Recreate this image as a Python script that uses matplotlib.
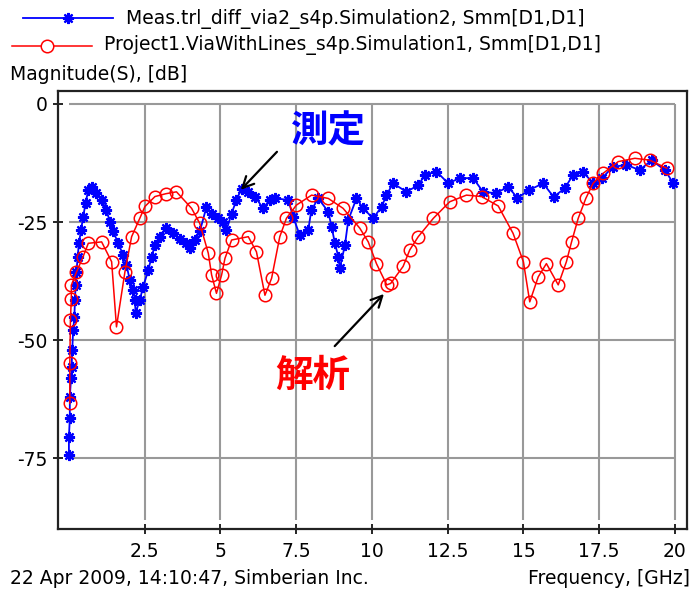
import matplotlib
matplotlib.use("Agg")
import matplotlib.pyplot as plt
from matplotlib.lines import Line2D

plt.rcParams['font.family'] = ['DejaVu Sans']

# measured curve (blue asterisks)
blue_f = [0.0, 0.0, 0.03, 0.03, 0.07, 0.09, 0.11, 0.14, 0.18, 0.20, 0.22, 0.25, 0.29, 0.33,
          0.40, 0.47, 0.55, 0.64, 0.75, 0.91, 1.08, 1.24, 1.35, 1.46, 1.63, 1.79, 1.90, 2.01,
          2.12, 2.18, 2.20, 2.34, 2.45, 2.62, 2.73, 2.84, 3.00, 3.22, 3.44, 3.66, 3.88, 3.99,
          4.16, 4.32, 4.54, 4.71, 4.93, 5.09, 5.20, 5.37, 5.53, 5.70, 5.92, 6.14, 6.41, 6.63,
          6.80, 7.24, 7.40, 7.62, 7.90, 8.00, 8.23, 8.56, 8.67, 8.78, 8.89, 8.94, 9.11, 9.22,
          9.49, 9.71, 10.04, 10.32, 10.48, 10.70, 11.14, 11.53, 11.75, 12.13, 12.52, 12.90,
          13.34, 13.67, 14.10, 14.50, 14.80, 15.20, 15.65, 16.00, 16.37, 16.64, 16.96, 17.30,
          17.60, 17.95, 18.40, 18.84, 19.23, 19.67, 19.95]
blue_db = [-74.4, -70.5, -66.6, -62.0, -58.1, -55.6, -52.1, -47.9, -45.1, -41.5, -38.3, -35.5,
           -32.3, -29.5, -26.7, -23.9, -21.0, -18.2, -17.5, -18.9, -20.3, -22.5, -24.9, -27.0,
           -29.5, -32.0, -34.1, -37.3, -39.4, -41.5, -44.3, -41.5, -38.7, -35.2, -32.3, -29.9,
           -28.1, -26.3, -27.4, -28.5, -29.5, -30.6, -28.8, -27.0, -21.8, -23.2, -24.2, -24.9,
           -26.7, -23.2, -20.3, -17.9, -18.6, -19.6, -22.1, -20.3, -20.0, -20.3, -23.9, -27.8,
           -26.7, -22.5, -20.0, -22.8, -26.0, -29.5, -32.3, -34.8, -29.9, -24.6, -20.0, -22.1,
           -24.2, -21.8, -19.3, -16.8, -18.6, -17.2, -15.0, -14.3, -16.8, -15.7, -15.7, -18.6,
           -18.9, -17.5, -19.9, -18.2, -16.8, -19.7, -17.8, -15.0, -14.3, -16.8, -15.7, -13.3,
           -12.9, -14.0, -11.9, -14.0, -16.8]

# simulated curve (red circles)
red_f = [0.03, 0.03, 0.05, 0.08, 0.08, 0.25, 0.47, 0.64, 1.08, 1.41, 1.57, 1.85, 2.07, 2.34,
         2.51, 2.84, 3.20, 3.55, 4.05, 4.32, 4.60, 4.71, 4.87, 5.04, 5.15, 5.37, 5.92, 6.19,
         6.47, 6.69, 6.96, 7.18, 7.51, 8.01, 8.56, 9.05, 9.60, 9.88, 10.15, 10.49, 10.62,
         11.03, 11.25, 11.53, 12.03, 12.57, 13.12, 13.62, 14.17, 14.66, 15.00, 15.21, 15.49,
         15.76, 16.15, 16.42, 16.59, 16.81, 17.06, 17.30, 17.63, 18.13, 18.68, 19.17, 19.73]
red_db = [-63.4, -54.9, -45.8, -41.2, -38.4, -35.6, -32.3, -29.5, -29.2, -33.4, -47.2, -35.5,
          -28.1, -24.2, -21.7, -19.6, -19.0, -18.6, -22.1, -25.3, -31.6, -36.2, -40.1, -36.2,
          -32.7, -28.8, -28.1, -31.3, -40.5, -36.9, -28.1, -24.2, -21.4, -19.3, -20.0, -22.1,
          -26.3, -29.2, -33.8, -38.3, -38.0, -34.4, -30.9, -28.1, -24.2, -20.7, -19.3, -19.6,
          -21.6, -27.4, -33.4, -41.9, -36.6, -33.8, -38.3, -33.4, -29.2, -24.2, -20.0, -16.8,
          -14.7, -12.2, -11.5, -11.9, -13.6]

x_ticks = [2.5, 5, 7.5, 10, 12.5, 15, 17.5, 20]
x_labels = ['2.5', '5', '7.5', '10', '12.5', '15', '17.5', '20']
y_ticks = [0, -25, -50, -75]
y_labels = ['0', '-25', '-50', '-75']

blue_label = 'Meas.trl_diff_via2_s4p.Simulation2, Smm[D1,D1]'
red_label = 'Project1.ViaWithLines_s4p.Simulation1, Smm[D1,D1]'

W, H = 694, 593
fig = plt.figure(figsize=(6.94, 5.93), dpi=100)
ax = fig.add_axes([58 / W, 1 - 529 / H, 629 / W, 438 / H])
ax.set_xlim(-0.36, 20.4)
ax.set_ylim(-90, 2.75)

# grid only inside the data area
ax.vlines(x_ticks, -88, 0, color='#999999', lw=1.5, zorder=1)
ax.hlines(y_ticks, 0, 20, color='#999999', lw=1.5, zorder=1)

ast = (8, 2, 0)
ax.plot(blue_f, blue_db, color='#0000ff', lw=1.3, marker=ast, ms=8, mew=1.6, zorder=3)
ax.plot(red_f, red_db, color='#ff0000', lw=1.1, marker='o', ms=9, mfc='none', mew=1.1, zorder=4)

ax.set_xticks(x_ticks)
ax.set_xticklabels(x_labels)
ax.set_yticks(y_ticks)
ax.set_yticklabels(y_labels)
ax.tick_params(direction='inout', length=7, width=1.2, labelsize=13.5, colors='black')
ax.tick_params(axis='x', pad=6)
ax.tick_params(axis='y', pad=4)
for s in ax.spines.values():
    s.set_linewidth(1.6)
    s.set_color('#222222')

# legend drawn at the top of the figure
fig.add_artist(Line2D([23 / W, 113 / W], [1 - 18 / H] * 2, color='#0000ff', lw=1.3))
fig.add_artist(Line2D([68 / W], [1 - 18 / H], color='#0000ff', marker=ast, ms=8, mew=1.6))
fig.text(126 / W, 1 - 19 / H, blue_label, fontsize=13.5, va='center')
fig.add_artist(Line2D([12 / W, 92 / W], [1 - 46 / H] * 2, color='#ff0000', lw=1.1))
fig.add_artist(Line2D([47 / W], [1 - 46 / H], color='#ff0000', marker='o', ms=9,
                      mfc='white', mew=1.1))
fig.text(104 / W, 1 - 45 / H, red_label, fontsize=13.5, va='center')

fig.text(10 / W, 1 - 75 / H, 'Magnitude(S), [dB]', fontsize=13.5, va='center')
fig.text(10 / W, 1 - 578 / H, '22 Apr 2009, 14:10:47, Simberian Inc.', fontsize=13.5, va='center')
fig.text(690 / W, 1 - 578 / H, 'Frequency, [GHz]', fontsize=13.5, va='center', ha='right')

# annotations
cjk = ['Noto Sans CJK JP', 'DejaVu Sans']
ax.annotate('', xy=(5.61, -18.6), xytext=(6.93, -9.7),
            arrowprops=dict(arrowstyle='->', color='black', lw=1.6, mutation_scale=20))
ax.text(8.55, -5.7, '測定', color='#0000ff', fontsize=27, fontweight='bold', family=cjk,
        ha='center', va='center')
ax.annotate('', xy=(10.46, -39.8), xytext=(8.71, -51.7),
            arrowprops=dict(arrowstyle='->', color='black', lw=1.6, mutation_scale=20))
ax.text(8.05, -57.4, '解析', color='#ff0000', fontsize=27, fontweight='bold', family=cjk,
        ha='center', va='center')

fig.savefig('out.png', dpi=100)
